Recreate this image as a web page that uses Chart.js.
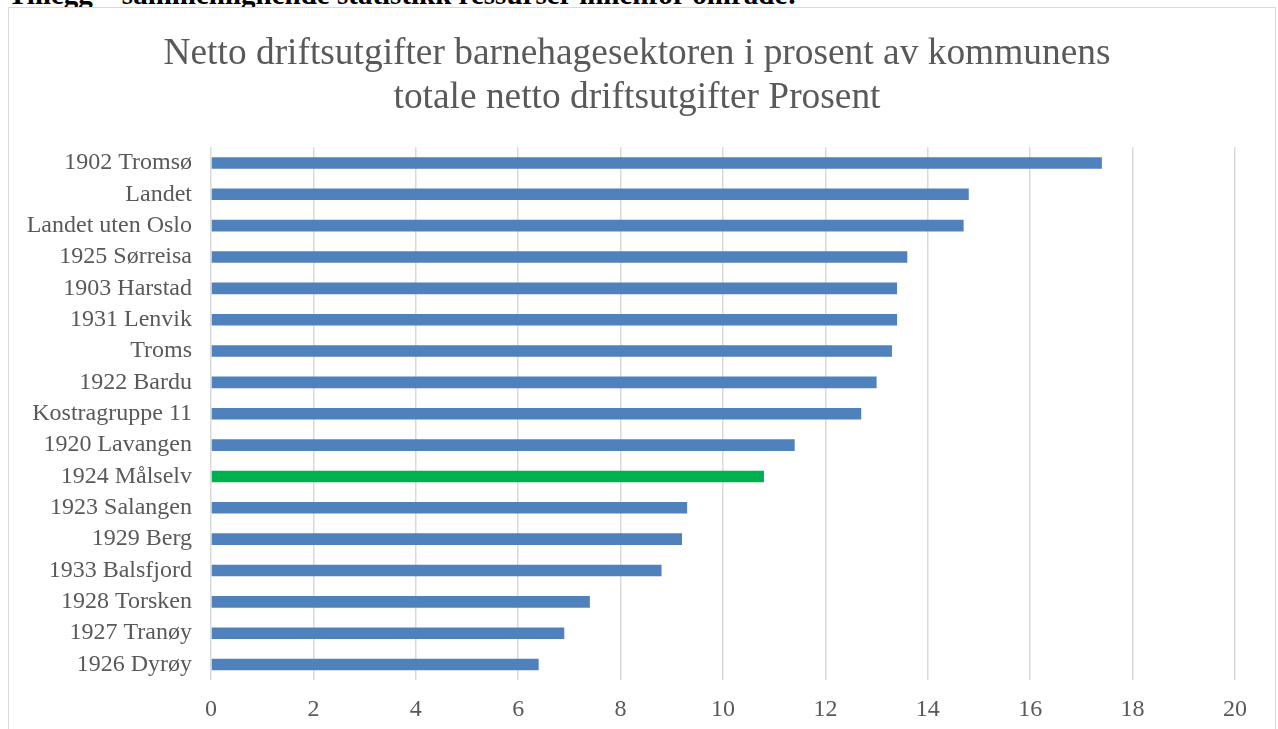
<!DOCTYPE html>
<html>
<head>
<meta charset="utf-8">
<script src="https://cdn.jsdelivr.net/npm/chart.js@4"></script>
<style>
  html, body { margin: 0; padding: 0; background: #fff; overflow: hidden; }
  body { width: 1278px; height: 729px; position: relative; }
  #heading {
    position: absolute; left: 8px; top: -20px;
    font: bold 29px/29px "Liberation Serif", serif; color: #000; white-space: nowrap;
  }
  #frame {
    position: absolute; left: 8px; top: 7px; width: 1266px; height: 760px;
    border: 1px solid #d9d9d9; background: #fff;
  }
  #chart { display: block; }
</style>
</head>
<body>
<div id="heading">Tillegg – sammenlignende statistikk ressurser innenfor område:</div>
<div id="frame"><canvas id="chart" width="1266" height="736"></canvas></div>
<script>
const categories = [
  '1902 Tromsø', 'Landet', 'Landet uten Oslo', '1925 Sørreisa', '1903 Harstad',
  '1931 Lenvik', 'Troms', '1922 Bardu', 'Kostragruppe 11', '1920 Lavangen',
  '1924 Målselv', '1923 Salangen', '1929 Berg', '1933 Balsfjord', '1928 Torsken',
  '1927 Tranøy', '1926 Dyrøy'
];
const prosent = [17.4, 14.8, 14.7, 13.6, 13.4, 13.4, 13.3, 13.0, 12.7, 11.4, 10.8, 9.3, 9.2, 8.8, 7.4, 6.9, 6.4];
const highlighted = '1924 Målselv';
const titleLines = [
  'Netto driftsutgifter barnehagesektoren i prosent av kommunens',
  'totale netto driftsutgifter Prosent'
];

const serif = "'Liberation Serif', 'Times New Roman', serif";
const grey = '#595959';

new Chart(document.getElementById('chart'), {
  type: 'bar',
  data: {
    labels: categories,
    datasets: [{
      data: prosent,
      backgroundColor: categories.map(c => c === highlighted ? '#00b050' : '#4f81bd'),
      categoryPercentage: 1,
      barPercentage: 0.37
    }]
  },
  options: {
    indexAxis: 'y',
    responsive: false,
    animation: false,
    layout: { padding: { left: 0, right: 10, bottom: 5 } },
    plugins: {
      legend: { display: false },
      tooltip: { enabled: false },
      title: {
        display: true,
        text: titleLines,
        color: grey,
        font: { family: serif, size: 37.4, weight: 'normal', lineHeight: 1.18 },
        padding: { top: 24, bottom: 27 }
      }
    },
    scales: {
      x: {
        min: 0, max: 20,
        ticks: { stepSize: 2, color: grey, padding: 15, font: { family: serif, size: 24 } },
        grid: { color: '#d9d9d9', lineWidth: 1.5, drawTicks: false },
        border: { display: false },
        // leave room on the right like the original plot area
        afterFit: scale => { scale.paddingRight = 40; }
      },
      y: {
        ticks: { color: grey, padding: 19, autoSkip: false, font: { family: serif, size: 24 } },
        grid: { display: false, drawTicks: false },
        border: { display: false },
        afterFit: scale => { scale.width = 202; }
      }
    }
  }
});
</script>
</body>
</html>
